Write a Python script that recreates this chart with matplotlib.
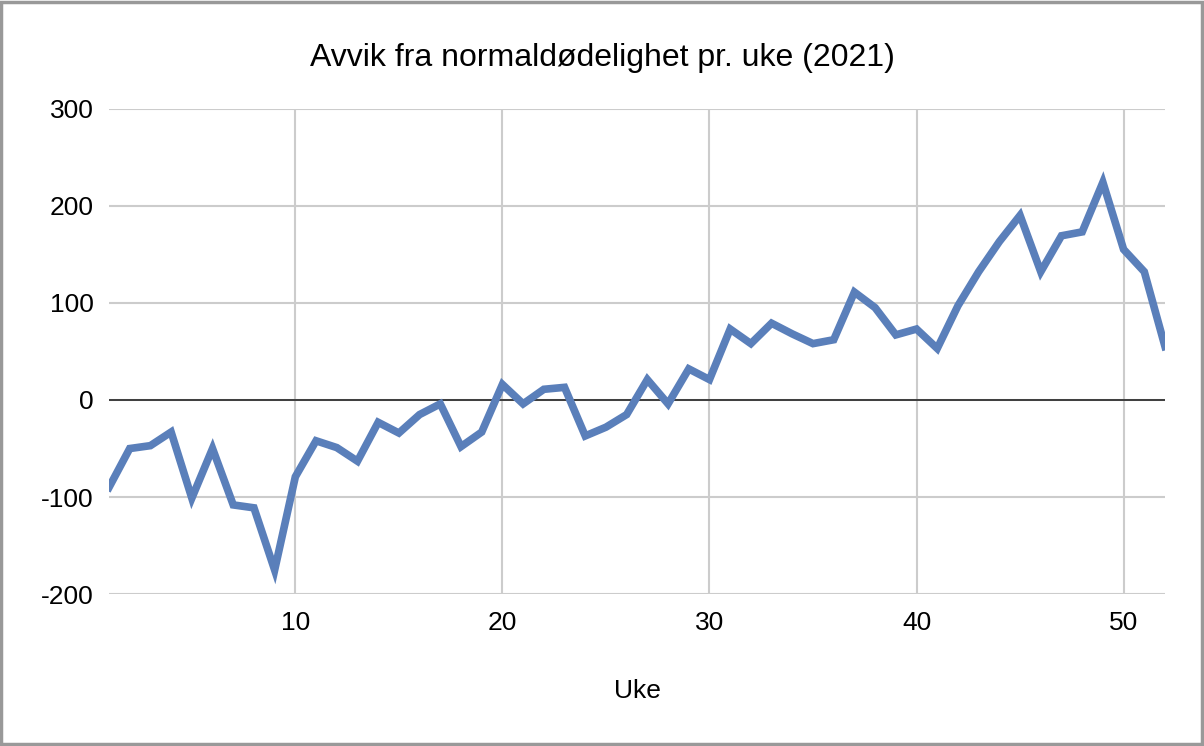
import matplotlib
matplotlib.use("Agg")
import matplotlib.pyplot as plt
from matplotlib.patches import Rectangle

plt.rcParams['font.family'] = ['Liberation Sans', 'DejaVu Sans']
plt.rcParams['axes.unicode_minus'] = False

weeks = list(range(1, 53))
deviation = [-90, -50, -47, -33, -101, -50, -108, -111, -175, -79,
             -42, -49, -63, -23, -34, -15, -4, -48, -33, 16,
             -4, 11, 13, -37, -28, -15, 21, -4, 32, 21,
             73, 58, 79, 68, 58, 62, 111, 95, 67, 73,
             53, 97, 132, 163, 190, 132, 169, 173, 224, 155,
             132, 55]

title = "Avvik fra normaldødelighet pr. uke (2021)"
xlabel = "Uke"
xticks = [10, 20, 30, 40, 50]
yticks = [-200, -100, 0, 100, 200, 300]

W, H = 1204, 746
fig = plt.figure(figsize=(W / 100, H / 100), dpi=100)
ax = fig.add_axes([109 / W, 1 - 594.3 / H, (1165 - 109) / W, (594.3 - 108.5) / H])

ax.set_xlim(1, 52)
ax.set_ylim(-200, 300)
ax.set_xticks(xticks)
ax.set_yticks(yticks)
ax.grid(True, color='#cccccc', linewidth=1.5)
ax.set_axisbelow(True)
ax.axhline(0, color='#333333', linewidth=1.3, zorder=2)
for s in ax.spines.values():
    s.set_visible(False)
ax.tick_params(length=0, labelsize=19)
ax.tick_params(axis='y', pad=11)
ax.tick_params(axis='x', pad=12)

ax.plot(weeks, deviation, color='#5a7fba', linewidth=5.5, solid_joinstyle='miter', zorder=3)

fig.text(602 / W, 1 - 58 / H, title, ha='center', va='center', fontsize=23)
fig.text(637 / W, 1 - 691 / H, xlabel, ha='center', va='center', fontsize=19)

fig.patches.append(Rectangle((1 / W, 2 / H), (W - 3) / W, (H - 4) / H, transform=fig.transFigure,
                             fill=False, edgecolor='#999999', linewidth=2.5))

fig.savefig("out.png", dpi=100)
